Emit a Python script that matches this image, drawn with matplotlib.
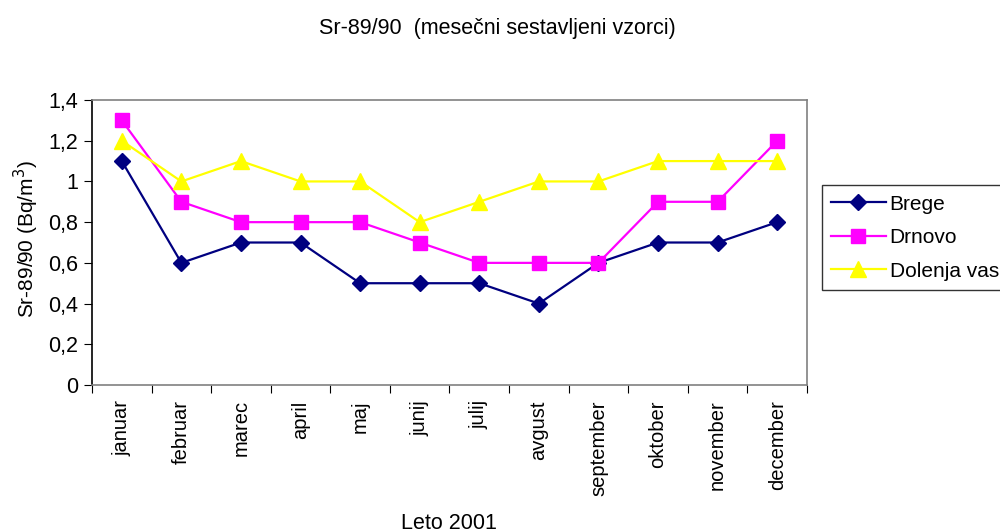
import matplotlib
matplotlib.use("Agg")
import matplotlib.pyplot as plt
from matplotlib.ticker import FixedLocator, NullFormatter

plt.rcParams['font.family'] = ['Liberation Sans', 'DejaVu Sans']

months = ["januar", "februar", "marec", "april", "maj", "junij", "julij",
          "avgust", "september", "oktober", "november", "december"]
brege = [1.1, 0.6, 0.7, 0.7, 0.5, 0.5, 0.5, 0.4, 0.6, 0.7, 0.7, 0.8]
drnovo = [1.3, 0.9, 0.8, 0.8, 0.8, 0.7, 0.6, 0.6, 0.6, 0.9, 0.9, 1.2]
dolenja_vas = [1.2, 1.0, 1.1, 1.0, 1.0, 0.8, 0.9, 1.0, 1.0, 1.1, 1.1, 1.1]
yticks = [0, 0.2, 0.4, 0.6, 0.8, 1.0, 1.2, 1.4]
ytick_labels = ["0", "0,2", "0,4", "0,6", "0,8", "1", "1,2", "1,4"]

fig = plt.figure(figsize=(10, 5.32), dpi=100)
ax = fig.add_axes([0.092, 0.2763, 0.715, 0.5357])

x = list(range(len(months)))
ax.plot(x, brege, color='#000080', marker='D', markersize=8, linewidth=1.6, label='Brege')
ax.plot(x, drnovo, color='#FF00FF', marker='s', markersize=10, linewidth=1.6, label='Drnovo')
ax.plot(x, dolenja_vas, color='#FFFF00', marker='^', markersize=11, linewidth=1.6, label='Dolenja vas')

ax.set_xlim(-0.5, len(months) - 0.5)
ax.set_ylim(0, 1.4)
ax.set_yticks(yticks)
ax.set_yticklabels(ytick_labels, fontsize=15.5)

ax.xaxis.set_major_locator(FixedLocator([i - 0.5 for i in range(len(months) + 1)]))
ax.xaxis.set_major_formatter(NullFormatter())
ax.set_xticks(x, minor=True)
ax.set_xticklabels(months, minor=True, rotation=90, fontsize=14.5)
ax.tick_params(axis='x', which='minor', length=0, pad=11)
ax.tick_params(axis='x', which='major', length=6, direction='out', color='black')
ax.tick_params(axis='y', length=6, direction='out', color='black', pad=4)

for side in ['top', 'right']:
    ax.spines[side].set_color('#808080')
ax.spines['left'].set_color('black')
ax.spines['bottom'].set_color('#808080')
for s in ax.spines.values():
    s.set_linewidth(1.2)

fig.text(0.026, 0.55, 'Sr-89/90 (Bq/m$^3$)', rotation=90, ha='center', va='center', fontsize=15)
fig.text(0.449, 0.016, 'Leto 2001', ha='center', va='center', fontsize=15.5)
fig.text(0.497, 0.947, 'Sr-89/90  (mesečni sestavljeni vzorci)', ha='center', va='center', fontsize=15.5)

leg = fig.legend(loc='upper left', bbox_to_anchor=(0.822, 0.652), fontsize=15,
                 frameon=True, fancybox=False, borderpad=0.45, labelspacing=0.7,
                 handlelength=2.6, handletextpad=0.2, borderaxespad=0)
leg.get_frame().set_edgecolor('black')
leg.get_frame().set_linewidth(1.0)

fig.savefig('out.png', dpi=100)
